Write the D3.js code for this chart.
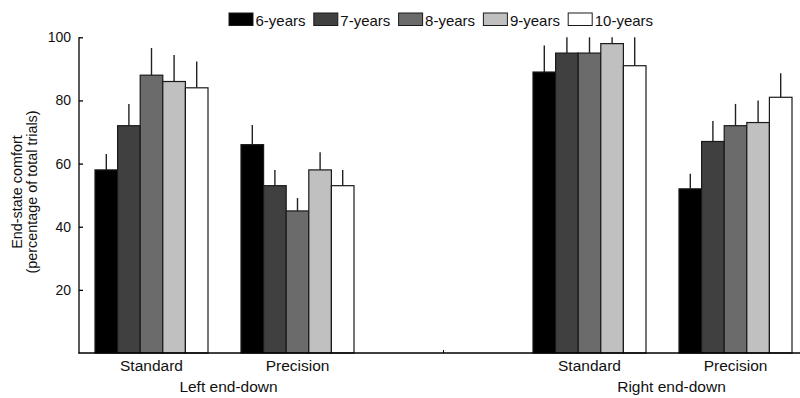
<!DOCTYPE html>
<html>
<head>
<meta charset="utf-8">
<script src="https://cdn.jsdelivr.net/npm/d3@7"></script>
<style>
  html, body { margin: 0; padding: 0; background: #fff; }
  svg { display: block; font-family: "Liberation Sans", Arial, sans-serif; }
</style>
</head>
<body>
<svg id="chart" width="800" height="398"></svg>
<script>
// ---- data ----
const slots = ["L-Standard", "L-Precision", "gap", "R-Standard", "R-Precision"];
const slotLabels = ["Standard", "Precision", "", "Standard", "Precision"];
const groupLabels = ["Left end-down", "Right end-down"];
const series = ["6-years", "7-years", "8-years", "9-years", "10-years"];
const seriesColors = ["#000000", "#404040", "#6b6b6b", "#c0c0c0", "#ffffff"];
// values per series, in slot order (L-Standard, L-Precision, R-Standard, R-Precision)
const conditions = ["L-Standard", "L-Precision", "R-Standard", "R-Precision"];
const values6  = [58, 66, 89, 52];
const values7  = [72, 53, 95, 67];
const values8  = [88, 45, 95, 72];
const values9  = [86, 58, 98, 73];
const values10 = [84, 53, 91, 81];
const errors6  = [5.0, 6.2, 8.4, 4.8];
const errors7  = [6.9, 5.0, 6.0, 6.5];
const errors8  = [8.6, 4.1, 6.0, 6.9];
const errors9  = [8.4, 5.6, 4.0, 7.0];
const errors10 = [8.3, 5.0, 10.0, 7.6];
const yTicks = [20, 40, 60, 80, 100];

const allValues = [values6, values7, values8, values9, values10];
const allErrors = [errors6, errors7, errors8, errors9, errors10];

// ---- layout ----
const svg = d3.select("#chart");
const axisX = 79, baseY = 353, topY = 37.3;

const x = d3.scaleBand().domain(slots).range([78.5, 808.5])
  .paddingInner(0.226).paddingOuter(0.113);
const xs = d3.scaleBand().domain(series).range([0, x.bandwidth()]).padding(0);
const y = d3.scaleLinear().domain([0, 100]).range([baseY, topY]);
const color = d3.scaleOrdinal().domain(series).range(seriesColors);

const records = [];
series.forEach((s, si) => {
  conditions.forEach((c, ci) => {
    records.push({ s, c, v: allValues[si][ci], e: allErrors[si][ci] });
  });
});

// error bars (drawn first so bar outline sits on top at the base of the line)
svg.append("g").selectAll("line").data(records).join("line")
  .attr("x1", d => x(d.c) + xs(d.s) + xs.bandwidth() / 2)
  .attr("x2", d => x(d.c) + xs(d.s) + xs.bandwidth() / 2)
  .attr("y1", d => y(d.v))
  .attr("y2", d => y(Math.min(100, d.v + d.e)))
  .attr("stroke", "#222").attr("stroke-width", 1.4);

// bars
svg.append("g").selectAll("rect").data(records).join("rect")
  .attr("x", d => x(d.c) + xs(d.s))
  .attr("y", d => y(d.v))
  .attr("width", xs.bandwidth())
  .attr("height", d => baseY - y(d.v))
  .attr("fill", d => color(d.s))
  .attr("stroke", "#1a1a1a").attr("stroke-width", 1.2);

// y axis
const yAxis = d3.axisLeft(y).tickValues(yTicks).tickSize(-4).tickPadding(8)
  .tickFormat(d3.format("d"));
const gy = svg.append("g").attr("transform", `translate(${axisX},0)`).call(yAxis);
gy.select(".domain").remove();
gy.selectAll(".tick line").attr("stroke", "#000").attr("stroke-width", 1.3);
gy.selectAll(".tick text").attr("font-size", 14).attr("fill", "#111")
  .attr("font-family", "Liberation Sans, Arial, sans-serif");
svg.append("line").attr("x1", axisX).attr("x2", axisX)
  .attr("y1", y(100)).attr("y2", baseY + 0.5)
  .attr("stroke", "#000").attr("stroke-width", 1.3);

// x axis line
svg.append("line").attr("x1", axisX - 0.5).attr("x2", 800)
  .attr("y1", baseY).attr("y2", baseY)
  .attr("stroke", "#000").attr("stroke-width", 1.6);
// middle divider tick
svg.append("line")
  .attr("x1", x("gap") + x.bandwidth() / 2).attr("x2", x("gap") + x.bandwidth() / 2)
  .attr("y1", baseY).attr("y2", baseY - 3)
  .attr("stroke", "#000").attr("stroke-width", 1);

// category labels
svg.append("g").selectAll("text").data(slots.filter(s => s !== "gap")).join("text")
  .attr("x", s => x(s) + x.bandwidth() / 2)
  .attr("y", 371)
  .attr("text-anchor", "middle")
  .attr("font-size", 15.5).attr("fill", "#111")
  .text(s => slotLabels[slots.indexOf(s)]);

// group labels
const groupCenters = [
  (x("L-Standard") + x("L-Precision")) / 2 + x.bandwidth() / 2 + 4,
  (x("R-Standard") + x("R-Precision")) / 2 + x.bandwidth() / 2 + 9
];
svg.append("g").selectAll("text").data(groupLabels).join("text")
  .attr("x", (d, i) => groupCenters[i])
  .attr("y", 392)
  .attr("text-anchor", "middle")
  .attr("font-size", 15.5).attr("fill", "#111")
  .text(d => d);

// y axis title
const yt = svg.append("text")
  .attr("transform", "translate(0,192) rotate(-90)")
  .attr("text-anchor", "middle")
  .attr("font-size", 14.4).attr("fill", "#111");
yt.append("tspan").attr("x", 0).attr("y", 22).text("End-state comfort");
yt.append("tspan").attr("x", 0).attr("y", 37).text("(percentage of total trials)");

// legend
const legend = svg.append("g").selectAll("g").data(series).join("g")
  .attr("transform", (d, i) => `translate(${229 + i * 84.8},13)`);
legend.append("rect")
  .attr("width", 24).attr("height", 12.5)
  .attr("fill", d => color(d))
  .attr("stroke", "#1a1a1a").attr("stroke-width", 1);
legend.append("text")
  .attr("x", 26.5).attr("y", 12.5)
  .attr("font-size", 15).attr("fill", "#111")
  .text(d => d);
</script>
</body>
</html>
